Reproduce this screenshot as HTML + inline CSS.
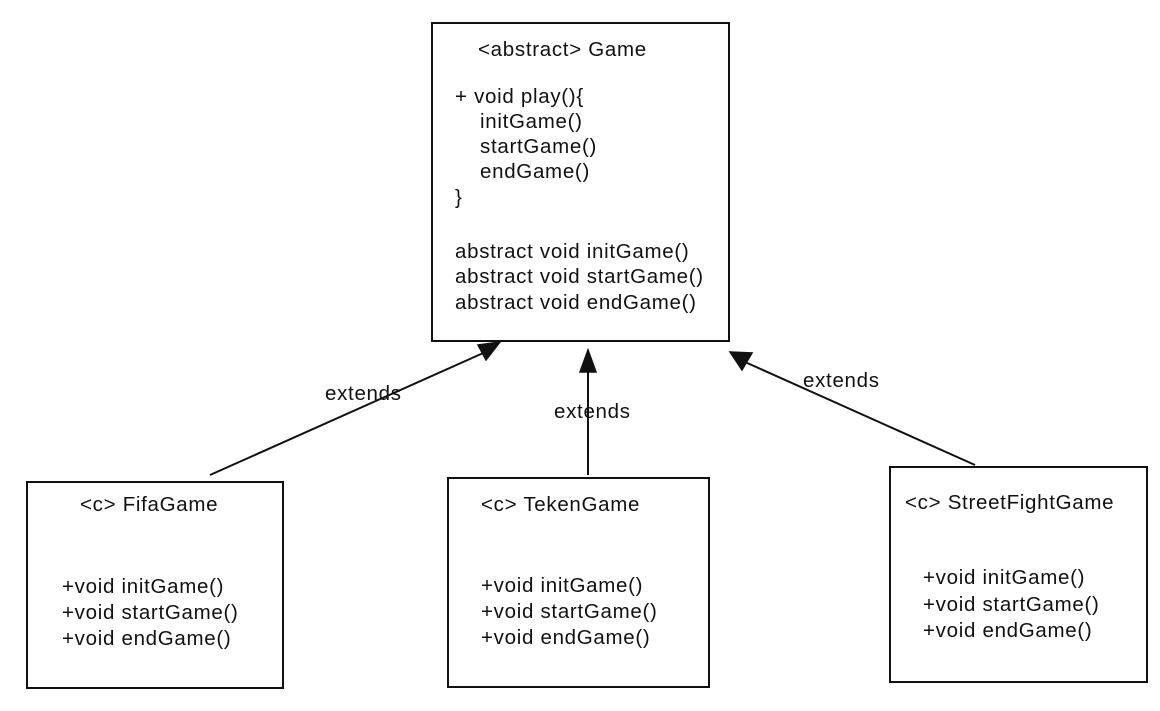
<!DOCTYPE html>
<html><head><style>
body{margin:0;width:1160px;height:706px;background:#fff;overflow:hidden}
svg text{font-family:"Liberation Sans",sans-serif;font-size:20.5px;letter-spacing:0.7px;fill:#111}
</style></head><body>
<svg width="1160" height="706" viewBox="0 0 1160 706" xmlns="http://www.w3.org/2000/svg">
<g fill="none" stroke="#111" stroke-width="2">
<rect x="432" y="23" width="297" height="318"/>
<rect x="27" y="482" width="256" height="206"/>
<rect x="448" y="478" width="261" height="209"/>
<rect x="890" y="467" width="257" height="215"/>
<line x1="210" y1="475" x2="490" y2="350"/>
<line x1="588" y1="475" x2="588" y2="360"/>
<line x1="975" y1="465" x2="745" y2="362"/>
</g>
<g fill="#111" stroke="#111" stroke-width="1.5">
<polygon points="500,342 478,345 486,360"/>
<polygon points="588,350 580,372 596,372"/>
<polygon points="730,352 752,353 742,370"/>
</g>
<text x="478" y="56">&lt;abstract&gt; Game</text>
<text x="455" y="103">+ void play(){</text>
<text x="480" y="128">initGame()</text>
<text x="480" y="153">startGame()</text>
<text x="480" y="178">endGame()</text>
<text x="455" y="204">}</text>
<text x="455" y="258">abstract void initGame()</text>
<text x="455" y="283">abstract void startGame()</text>
<text x="455" y="309">abstract void endGame()</text>
<text x="325" y="400">extends</text>
<text x="554" y="418">extends</text>
<text x="803" y="387">extends</text>
<text x="80" y="511">&lt;c&gt; FifaGame</text>
<text x="62" y="593">+void initGame()</text>
<text x="62" y="619">+void startGame()</text>
<text x="62" y="645">+void endGame()</text>
<text x="481" y="511">&lt;c&gt; TekenGame</text>
<text x="481" y="592">+void initGame()</text>
<text x="481" y="618">+void startGame()</text>
<text x="481" y="644">+void endGame()</text>
<text x="905" y="509">&lt;c&gt; StreetFightGame</text>
<text x="923" y="584">+void initGame()</text>
<text x="923" y="611">+void startGame()</text>
<text x="923" y="637">+void endGame()</text>
</svg>
</body></html>
